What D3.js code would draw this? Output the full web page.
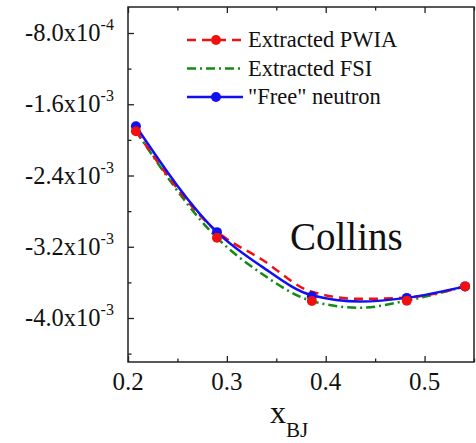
<!DOCTYPE html>
<html>
<head>
<meta charset="utf-8">
<script src="https://cdn.jsdelivr.net/npm/d3@7"></script>
</head>
<body style="margin:0">
<script>
// data points (x_BJ)
const point_x = [0.208, 0.29, 0.386, 0.482, 0.541];
const pwia_points = [-1.903e-3, -3.099e-3, -3.81e-3, -3.805e-3, -3.645e-3];
const free_points = [-1.847e-3, -3.036e-3, -3.755e-3, -3.774e-3, -3.645e-3];

// fitted curves
const curve_x = [0.208, 0.29, 0.335, 0.386, 0.435, 0.482, 0.541];
const pwia_curve = [-1.90e-3, -3.03e-3, -3.34e-3, -3.706e-3, -3.785e-3, -3.77e-3, -3.645e-3];
const fsi_curve = [-1.90e-3, -3.10e-3, -3.50e-3, -3.81e-3, -3.885e-3, -3.805e-3, -3.645e-3];
const free_curve = [-1.847e-3, -3.036e-3, -3.42e-3, -3.745e-3, -3.815e-3, -3.774e-3, -3.645e-3];

// ticks
const x_ticks = [0.2, 0.3, 0.4, 0.5];
const x_minor = [0.25, 0.35, 0.45, 0.55];
const y_ticks = [-8.0e-4, -1.6e-3, -2.4e-3, -3.2e-3, -4.0e-3];
const y_minor = [-1.2e-3, -2.0e-3, -2.8e-3, -3.6e-3, -4.4e-3];
const y_tick_base = ["-8.0x10", "-1.6x10", "-2.4x10", "-3.2x10", "-4.0x10"];
const y_tick_exp = ["-4", "-3", "-3", "-3", "-3"];

const legend_names = ["Extracted PWIA", "Extracted FSI", "\"Free\" neutron"];

const serif = "'Liberation Serif', serif";

let cfg = {
  width: 476,
  height: 443,
  margin: { left: 128, right: 2, top: 7, bottom: 81 }
};
let w = cfg.width - cfg.margin.left - cfg.margin.right;
let h = cfg.height - cfg.margin.top - cfg.margin.bottom;

let svg = d3.select("body").append("svg")
  .attr("width", cfg.width)
  .attr("height", cfg.height)
  .style("font-family", serif);
let g = svg.append("g")
  .attr("transform", "translate(" + cfg.margin.left + "," + cfg.margin.top + ")");

let x = d3.scaleLinear().domain([0.2, 0.55]).range([0, w]);
let y = d3.scaleLinear().domain([-4.494e-3, -5.08e-4]).range([h, 0]);

// axes, ticks pointing in
function style_axis(sel) {
  sel.select(".domain").remove();
  sel.selectAll("line").attr("stroke", "#222").attr("stroke-width", 1.3);
}
g.append("g").attr("transform", "translate(0," + h + ")")
  .call(d3.axisBottom(x).tickValues(x_ticks).tickSize(-6).tickFormat(""))
  .call(style_axis);
g.append("g").attr("transform", "translate(0," + h + ")")
  .call(d3.axisBottom(x).tickValues(x_minor).tickSize(-3.5).tickFormat(""))
  .call(style_axis);
g.append("g")
  .call(d3.axisTop(x).tickValues(x_ticks).tickSize(-6).tickFormat(""))
  .call(style_axis);
g.append("g")
  .call(d3.axisTop(x).tickValues(x_minor).tickSize(-3.5).tickFormat(""))
  .call(style_axis);
g.append("g")
  .call(d3.axisLeft(y).tickValues(y_ticks).tickSize(-6).tickFormat(""))
  .call(style_axis);
g.append("g")
  .call(d3.axisLeft(y).tickValues(y_minor).tickSize(-3.5).tickFormat(""))
  .call(style_axis);

g.append("rect")
  .attr("width", w).attr("height", h)
  .attr("fill", "none").attr("stroke", "#222").attr("stroke-width", 1.5);

// tick labels
g.selectAll(".xlab").data(x_ticks).enter().append("text")
  .attr("class", "xlab")
  .attr("x", d => x(d)).attr("y", h + 28)
  .attr("text-anchor", "middle")
  .attr("font-size", 25)
  .attr("fill", "#111")
  .style("font-family", serif)
  .text(d => d3.format(".1f")(d));

let ylab = g.selectAll(".ylab").data(y_ticks).enter().append("text")
  .attr("class", "ylab")
  .attr("x", -103).attr("y", d => y(d) + 8)
  .attr("font-size", 24.5)
  .attr("fill", "#111")
  .style("font-family", serif);
ylab.append("tspan").text((d, i) => y_tick_base[i]);
ylab.append("tspan").attr("font-size", 16).attr("dy", -11).text((d, i) => y_tick_exp[i]);

// axis title
let xt = svg.append("text")
  .attr("x", 270).attr("y", 423)
  .attr("font-size", 32)
  .attr("fill", "#111")
  .style("font-family", serif);
xt.append("tspan").text("x");
xt.append("tspan").attr("font-size", 21).attr("dy", 14).text("BJ");

// curves
let line = d3.line()
  .x((d, i) => x(curve_x[i]))
  .y(d => y(d))
  .curve(d3.curveMonotoneX);

g.append("path").datum(fsi_curve).attr("d", line)
  .attr("fill", "none").attr("stroke", "#138a13").attr("stroke-width", 2.5)
  .attr("stroke-dasharray", "9,4,2,4");
g.append("path").datum(pwia_curve).attr("d", line)
  .attr("fill", "none").attr("stroke", "#f01010").attr("stroke-width", 2.5)
  .attr("stroke-dasharray", "9,6");
g.append("path").datum(free_curve).attr("d", line)
  .attr("fill", "none").attr("stroke", "#1010f0").attr("stroke-width", 2.5);

g.selectAll(".free_pt").data(free_points).enter().append("circle")
  .attr("class", "free_pt")
  .attr("cx", (d, i) => x(point_x[i])).attr("cy", d => y(d))
  .attr("r", 5).attr("fill", "#1010f0");
g.selectAll(".pwia_pt").data(pwia_points).enter().append("circle")
  .attr("class", "pwia_pt")
  .attr("cx", (d, i) => x(point_x[i])).attr("cy", d => y(d))
  .attr("r", 5).attr("fill", "#f01010");

g.append("text")
  .attr("x", 162).attr("y", 243)
  .attr("font-size", 39)
  .attr("fill", "#111")
  .style("font-family", serif)
  .text("Collins");

// legend
let legend_colors = ["#f01010", "#138a13", "#1010f0"];
let legend_dash = ["9,6", "9,4,2,4", null];
let legend_marker = [true, false, true];
let lg = svg.append("g").attr("transform", "translate(187,40)");
legend_names.forEach((name, i) => {
  let row = lg.append("g").attr("transform", "translate(0," + i * 28.5 + ")");
  row.append("line")
    .attr("x1", 0).attr("x2", 56).attr("y1", 0).attr("y2", 0)
    .attr("stroke", legend_colors[i]).attr("stroke-width", 2.5)
    .attr("stroke-dasharray", legend_dash[i]);
  if (legend_marker[i]) {
    row.append("circle").attr("cx", 29).attr("cy", 0).attr("r", 5)
      .attr("fill", legend_colors[i]);
  }
  row.append("text")
    .attr("x", 61).attr("y", 7)
    .attr("font-size", 22.5)
    .attr("fill", "#111")
    .style("font-family", serif)
    .text(name);
});
</script>
</body>
</html>
